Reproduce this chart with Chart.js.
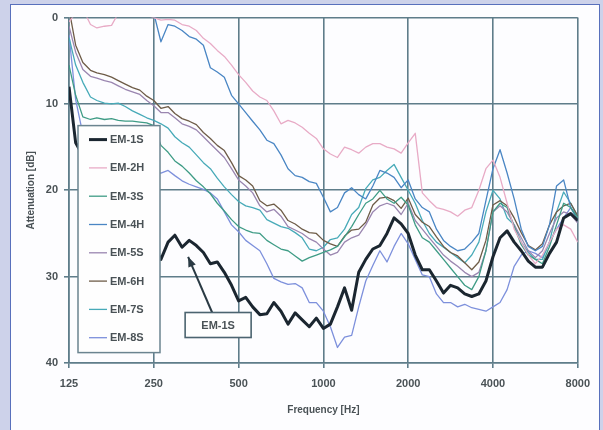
<!DOCTYPE html>
<html>
<head>
<meta charset="utf-8">
<script src="https://cdn.jsdelivr.net/npm/chart.js@4.4.1/dist/chart.umd.min.js"></script>
<style>
  html, body { margin: 0; padding: 0; background: #cdd2ea; width: 603px; height: 430px; overflow: hidden; }
  #panel { position: absolute; left: 10px; top: 4px; width: 588px; height: 440px; border: 1px solid #5870bc; background: #fdfdff; }
  #wrap { position: absolute; left: 0; top: 0; width: 588px; height: 425px; }
</style>
</head>
<body>
<div id="panel"><div id="wrap"><canvas id="c" width="588" height="425"></canvas></div></div>
<script>
// ---- data ----
const freqs = [125, 132, 140, 149, 157, 167, 177, 187, 198, 210, 223, 236, 250, 265, 281, 297, 315, 334, 354, 375, 397, 420, 445, 472, 500, 530, 561, 595, 630, 667, 707, 749, 794, 841, 891, 944, 1000, 1059, 1122, 1189, 1260, 1335, 1414, 1498, 1587, 1682, 1782, 1888, 2000, 2119, 2245, 2378, 2520, 2670, 2828, 2997, 3175, 3364, 3564, 3776, 4000, 4238, 4490, 4757, 5040, 5339, 5657, 5993, 6350, 6727, 7127, 7551, 8000];
const xTicks = [125, 250, 500, 1000, 2000, 4000, 8000];
const yTicks = [0, 10, 20, 30, 40];
const seriesNames = ["EM-1S", "EM-2H", "EM-3S", "EM-4H", "EM-5S", "EM-6H", "EM-7S", "EM-8S"];

const em1S = [8.0, 14.5, 16, 17, 18, 19, 20, 21, 22, 23, 24, 25, 26.5, 28.0, 26.0, 25.2, 26.6, 25.8, 26.4, 27.2, 28.5, 28.3, 29.5, 31.0, 32.8, 32.4, 33.5, 34.4, 34.3, 33.0, 34.0, 35.5, 34.2, 35.0, 35.8, 34.8, 36.0, 35.5, 33.5, 31.3, 33.9, 29.5, 28.0, 26.8, 26.4, 25.0, 23.2, 23.9, 25.0, 27.5, 29.2, 29.2, 30.5, 31.9, 31.0, 31.3, 32.0, 32.3, 32.0, 30.5, 27.7, 25.5, 24.7, 26.0, 27.0, 28.2, 28.9, 28.9, 27.3, 26.0, 23.2, 22.7, 23.5];
const em2H = [0.5, -0.5, -1, 0.8, 1.2, 1.0, 0.9, -0.5, -1, -1, -0.5, -0.3, 0.0, 0.3, 0.2, 0.3, 0.8, 1.0, 1.5, 2.4, 3.0, 3.8, 4.5, 5.5, 6.6, 7.5, 8.5, 9.2, 9.6, 10.8, 12.3, 11.9, 12.2, 12.7, 13.4, 14.0, 15.2, 15.8, 16.2, 15.0, 15.3, 15.7, 15.0, 14.6, 14.6, 15.0, 15.2, 15.7, 14.5, 13.4, 20.3, 21.2, 22.0, 22.2, 22.5, 23.0, 22.3, 22.0, 20.0, 17.5, 16.5, 18.5, 21.5, 24.5, 26.0, 27.5, 28.5, 27.5, 26.0, 24.5, 24.0, 24.5, 26.0];
const em3S = [5.5, 9.0, 11.5, 11.8, 11.6, 11.8, 11.7, 11.9, 12.0, 12.0, 12.1, 12.2, 12.5, 14.8, 15.6, 16.6, 17.2, 18.0, 18.9, 19.6, 20.4, 21.5, 22.4, 23.4, 24.2, 24.6, 24.9, 25.0, 25.8, 26.3, 26.8, 27.0, 27.6, 28.2, 27.8, 27.5, 27.2, 26.9, 26.5, 25.4, 24.2, 22.8, 21.5, 21.0, 20.0, 21.0, 21.5, 20.8, 21.7, 24.0, 25.5, 26.0, 27.0, 28.0, 29.0, 30.0, 31.0, 31.5, 30.0, 27.0, 22.5, 21.5, 22.0, 24.2, 26.3, 27.5, 28.0, 28.5, 26.5, 24.0, 21.5, 22.0, 23.2];
const em4H = [-2, -2, -2, -2, -2, -2, -2, -2, -2, -2, -2, -2, -0.5, 2.8, 0.8, 1.0, 1.5, 2.2, 2.5, 3.2, 5.8, 6.3, 6.9, 9.0, 10.0, 11.0, 12.0, 13.0, 14.2, 14.6, 15.9, 17.5, 18.3, 18.5, 19.0, 19.2, 20.8, 22.5, 22.0, 20.3, 19.7, 20.5, 21.0, 19.5, 17.7, 18.0, 18.5, 19.7, 18.8, 21.0, 22.0, 22.5, 24.5, 25.8, 26.5, 27.0, 26.8, 26.0, 25.0, 21.2, 17.5, 15.3, 18.0, 21.0, 24.5, 26.5, 27.0, 26.5, 24.0, 19.5, 18.8, 22.0, 23.5];
const em5S = [1.0, 4.0, 6.0, 6.8, 7.0, 7.3, 7.5, 7.9, 8.3, 8.6, 8.9, 9.6, 10.2, 11.0, 11.0, 11.6, 12.3, 12.6, 13.0, 13.8, 14.6, 15.4, 16.2, 17.5, 18.8, 19.5, 20.3, 21.8, 22.5, 22.2, 23.0, 24.2, 24.6, 25.0, 25.6, 26.0, 26.8, 27.5, 27.2, 26.0, 25.5, 25.2, 24.0, 22.5, 21.8, 21.5, 21.8, 22.8, 21.5, 23.5, 24.5, 25.5, 26.5, 27.5, 28.2, 28.8, 29.5, 30.0, 29.5, 27.0, 22.5, 21.8, 22.5, 24.0, 25.5, 27.0, 27.8, 27.0, 25.0, 23.2, 22.5, 22.8, 23.8];
const em6H = [-1, 3.2, 5.2, 6.1, 6.4, 6.6, 6.9, 7.3, 7.7, 8.1, 8.4, 9.1, 9.6, 10.5, 10.3, 11.1, 11.7, 12.0, 12.4, 13.3, 14.0, 14.8, 15.4, 16.8, 18.3, 18.8, 19.5, 21.2, 21.8, 21.6, 22.3, 23.5, 23.9, 24.5, 24.9, 25.0, 25.8, 26.2, 26.5, 25.3, 24.6, 24.5, 23.7, 21.7, 20.9, 20.8, 21.2, 22.1, 20.9, 22.8, 23.7, 24.2, 25.4, 26.5, 27.2, 27.6, 28.4, 29.2, 28.3, 25.8, 21.7, 21.2, 21.8, 23.2, 24.9, 26.4, 26.9, 26.2, 24.0, 22.5, 21.8, 21.5, 23.0];
const em7S = [2.3, 5.5, 7.5, 9.2, 9.6, 9.9, 10.0, 9.9, 10.3, 10.8, 11.2, 11.6, 11.9, 12.3, 12.8, 13.8, 14.5, 15.0, 15.9, 16.8, 17.5, 18.6, 19.6, 20.5, 21.3, 21.8, 22.0, 22.3, 23.4, 23.8, 24.2, 24.4, 24.9, 25.5, 26.8, 27.0, 26.6, 25.7, 25.5, 24.5, 22.8, 22.0, 19.8, 18.8, 18.5, 17.7, 17.0, 18.5, 20.0, 21.5, 23.5, 25.0, 26.0, 26.6, 27.2, 27.8, 28.4, 27.5, 26.0, 22.5, 20.0, 21.0, 23.2, 24.0, 26.0, 27.2, 28.0, 28.0, 26.0, 22.5, 20.2, 21.5, 23.0];
const em8S = [2.0, 9.5, 13.5, 14.5, 15.0, 15.3, 15.8, 16.0, 16.4, 16.8, 17.2, 17.6, 17.9, 18.0, 17.7, 18.3, 18.9, 19.3, 19.6, 19.9, 20.3, 21.0, 22.5, 24.0, 24.8, 25.8, 26.4, 27.0, 28.5, 30.2, 30.6, 30.9, 30.8, 31.3, 33.0, 33.0, 34.0, 35.8, 38.2, 37.0, 36.8, 33.5, 30.5, 28.7, 27.0, 28.3, 26.5, 25.0, 26.2, 28.0, 29.8, 30.0, 32.0, 33.0, 33.0, 33.5, 33.2, 33.6, 33.8, 34.0, 33.5, 33.0, 31.5, 28.8, 27.5, 27.0, 27.3, 27.8, 26.0, 24.5, 23.2, 22.0, 23.0];

// annotation: label box and arrow tip (in data units)
const annLabel = "EM-1S";
const annFreq = 423, annDb = 35.6;
const arrowFreq = 331, arrowDb = 27.7;

// ---- styling ----
const colors = ["#1b2630", "#e8abc6", "#3f9c86", "#4a86c4", "#9a86b0", "#6e5c48", "#47aab8", "#7d90dc"];
const widths = [3, 1.3, 1.3, 1.3, 1.3, 1.3, 1.3, 1.3];
const allSeries = [em1S, em2H, em3S, em4H, em5S, em6H, em7S, em8S];
const gridColor = "#5f7d8a";
const textColor = "#4a5256";
const FONT = "'Liberation Sans', Arial, sans-serif";

const datasets = seriesNames.map((name, k) => ({
  label: name,
  data: freqs.map((f, i) => ({ x: f, y: allSeries[k][i] })),
  borderColor: colors[k],
  backgroundColor: colors[k],
  borderWidth: widths[k],
  pointRadius: 0,
  tension: 0,
  borderJoinStyle: 'round',
  fill: false
}));

const overlayPlugin = {
  id: 'overlay',
  afterDatasetsDraw(chart) {
    const { ctx, chartArea: a, scales } = chart;
    ctx.save();
    // legend box inside the plot
    const x0 = a.left + 9, y0 = a.top + 108, w = 82, h = 227;
    ctx.fillStyle = "#fefefe";
    ctx.fillRect(x0, y0, w, h);
    ctx.strokeStyle = "#6b8490";
    ctx.lineWidth = 1.5;
    ctx.strokeRect(x0, y0, w, h);
    ctx.font = "bold 11px " + FONT;
    ctx.textBaseline = "middle";
    ctx.textAlign = "left";
    chart.data.datasets.forEach((ds, k) => {
      const y = y0 + 14 + k * 28.3;
      ctx.strokeStyle = ds.borderColor;
      ctx.lineWidth = ds.borderWidth;
      ctx.beginPath();
      ctx.moveTo(x0 + 11, y);
      ctx.lineTo(x0 + 29, y);
      ctx.stroke();
      ctx.fillStyle = textColor;
      ctx.fillText(ds.label, x0 + 32, y + 0.5);
    });
    // annotation box + arrow
    const cx = scales.x.getPixelForValue(annFreq);
    const cy = scales.y.getPixelForValue(annDb);
    const tx = scales.x.getPixelForValue(arrowFreq);
    const ty = scales.y.getPixelForValue(arrowDb);
    const bw = 66, bh = 25;
    const sx = cx - 6, sy = cy - bh / 2;
    ctx.strokeStyle = "#2a3a44";
    ctx.fillStyle = "#2a3a44";
    ctx.lineWidth = 2;
    ctx.beginPath();
    ctx.moveTo(sx, sy);
    ctx.lineTo(tx, ty);
    ctx.stroke();
    const ang = Math.atan2(ty - sy, tx - sx);
    const L = 10, W = 4;
    ctx.beginPath();
    ctx.moveTo(tx, ty);
    ctx.lineTo(tx - L * Math.cos(ang) + W * Math.sin(ang), ty - L * Math.sin(ang) - W * Math.cos(ang));
    ctx.lineTo(tx - L * Math.cos(ang) - W * Math.sin(ang), ty - L * Math.sin(ang) + W * Math.cos(ang));
    ctx.closePath();
    ctx.fill();
    ctx.fillStyle = "#fefefe";
    ctx.fillRect(cx - bw / 2, cy - bh / 2, bw, bh);
    ctx.strokeStyle = "#4c6470";
    ctx.lineWidth = 1.6;
    ctx.strokeRect(cx - bw / 2, cy - bh / 2, bw, bh);
    ctx.fillStyle = textColor;
    ctx.textAlign = "center";
    ctx.font = "bold 11px " + FONT;
    ctx.fillText(annLabel, cx, cy + 0.5);
    ctx.restore();
  }
};

new Chart(document.getElementById('c'), {
  type: 'line',
  data: { datasets },
  plugins: [overlayPlugin],
  options: {
    responsive: false,
    animation: false,
    devicePixelRatio: 1,
    layout: { padding: { top: 12, right: 21, left: 0, bottom: 0 } },
    plugins: { legend: { display: false }, tooltip: { enabled: false } },
    scales: {
      x: {
        type: 'logarithmic',
        min: 125, max: 8000,
        afterBuildTicks: s => { s.ticks = xTicks.map(v => ({ value: v })); },
        afterFit: s => { s.height = 67; },
        ticks: {
          callback: v => String(v),
          font: { family: FONT, size: 11, weight: 'bold' },
          color: textColor,
          padding: 9,
          maxRotation: 0, autoSkip: false
        },
        grid: { color: gridColor, lineWidth: 1.6, tickLength: 5, drawTicks: true },
        border: { display: true, color: gridColor, width: 1.6 },
        title: {
          display: true, text: 'Frequency [Hz]',
          font: { family: FONT, size: 10, weight: 'bold' },
          color: textColor, padding: { top: 4, bottom: 14 }
        }
      },
      y: {
        type: 'linear',
        reverse: true,
        min: 0, max: 40,
        afterBuildTicks: s => { s.ticks = yTicks.map(v => ({ value: v })); },
        afterFit: s => { s.width = 58; },
        ticks: {
          font: { family: FONT, size: 11, weight: 'bold' },
          color: textColor,
          padding: 6
        },
        grid: { color: gridColor, lineWidth: 1.6, tickLength: 5, drawTicks: true },
        border: { display: true, color: gridColor, width: 1.6 },
        title: {
          display: true, text: 'Attenuation [dB]',
          font: { family: FONT, size: 10, weight: 'bold' },
          color: textColor, padding: { top: 14, bottom: 4 }
        }
      }
    }
  }
});
</script>
</body>
</html>
